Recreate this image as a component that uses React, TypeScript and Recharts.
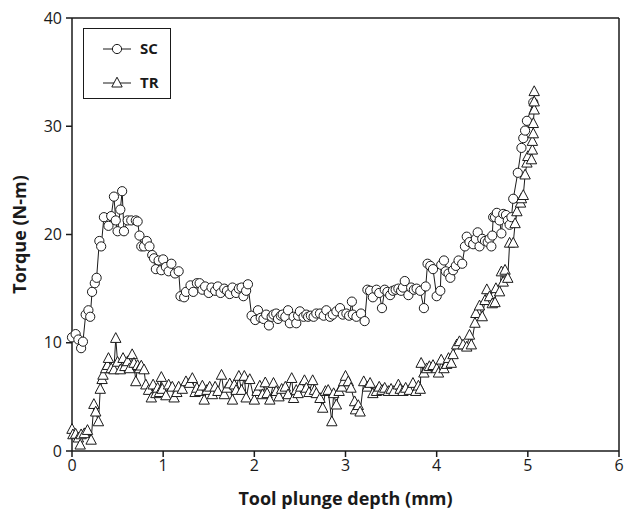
import React from "react";
import { LineChart, Line, XAxis, YAxis, ReferenceLine } from "recharts";

// SC: depth (mm) / torque (N-m)
const scDepth = [
  0.0, 0.04, 0.07, 0.1, 0.12, 0.15, 0.18, 0.2, 0.22, 0.25, 0.27, 0.3, 0.32, 0.35, 0.4, 0.43, 0.46, 0.48, 0.5, 0.53,
  0.55, 0.57, 0.61, 0.65, 0.7, 0.72, 0.74, 0.76, 0.79, 0.82, 0.85, 0.88, 0.9, 0.92, 0.95, 0.98, 1.0, 1.03, 1.06, 1.09,
  1.13, 1.17, 1.19, 1.23, 1.25, 1.3, 1.33, 1.37, 1.4, 1.43, 1.46, 1.5, 1.53, 1.57, 1.6, 1.63, 1.67, 1.7, 1.73, 1.76,
  1.8, 1.83, 1.86, 1.88, 1.91, 1.93, 1.97, 2.01, 2.04, 2.07, 2.1, 2.13, 2.16, 2.19, 2.21, 2.24, 2.26, 2.29, 2.31, 2.34,
  2.37, 2.39, 2.43, 2.46, 2.48, 2.5, 2.54, 2.57, 2.59, 2.62, 2.65, 2.68, 2.72, 2.76, 2.79, 2.83, 2.86, 2.9, 2.94, 2.97,
  3.01, 3.04, 3.07, 3.08, 3.12, 3.17, 3.21, 3.24, 3.27, 3.3, 3.34, 3.37, 3.4, 3.43, 3.46, 3.49, 3.52, 3.55, 3.58, 3.61,
  3.63, 3.65, 3.69, 3.72, 3.75, 3.78, 3.82, 3.86, 3.88, 3.9, 3.93, 3.96, 4.0, 4.04, 4.05, 4.08, 4.1, 4.13, 4.15, 4.18,
  4.21, 4.24, 4.28, 4.31, 4.33, 4.36, 4.4, 4.43, 4.45, 4.47, 4.5, 4.53, 4.56, 4.58, 4.6, 4.61, 4.62, 4.64, 4.66, 4.69,
  4.71, 4.73, 4.76, 4.78, 4.8, 4.82, 4.84, 4.89, 4.93, 4.95, 4.97, 4.99, 5.06,
];
const scTorque = [
  10.5, 10.8, 10.3, 9.5, 10.1, 12.6, 13.0, 12.4, 14.7, 15.5, 16.0, 19.4, 18.9, 21.6, 20.8, 21.7, 23.5, 21.3, 20.3, 22.3,
  24.0, 20.3, 21.3, 21.3, 21.3, 21.2, 19.9, 18.9, 18.9, 19.4, 18.9, 18.1, 17.8, 16.8, 17.6, 16.7, 17.7, 17.0, 16.6, 17.3,
  16.4, 16.6, 14.3, 14.2, 14.7, 15.3, 14.7, 15.5, 15.5, 14.9, 15.2, 14.6, 15.1, 14.8, 15.2, 14.6, 15.0, 14.8, 14.5, 15.1,
  14.6, 15.0, 15.1, 14.3, 14.8, 15.4, 12.5, 12.1, 13.0, 12.3, 12.2, 12.6, 11.6, 12.4, 12.6, 12.7, 12.2, 12.5, 12.6, 12.4,
  13.0, 11.8, 12.4, 11.8, 12.5, 12.9, 12.4, 12.6, 12.4, 12.5, 12.4, 12.7, 12.7, 12.5, 13.0, 12.4, 12.6, 12.9, 13.2, 12.6,
  12.7, 12.5, 13.8, 12.6, 12.4, 12.7, 12.0, 14.9, 14.8, 14.2, 14.9, 14.6, 13.2, 14.9, 14.7, 14.4, 14.8, 14.9, 15.0, 14.8,
  15.1, 15.7, 14.4, 15.1, 14.9, 15.0, 14.8, 13.2, 15.2, 17.3, 17.1, 16.8, 14.3, 14.8, 17.2, 17.6, 16.6, 16.4, 16.0, 16.7,
  17.1, 17.6, 17.3, 18.9, 19.8, 19.3, 19.1, 19.6, 20.2, 18.9, 19.6, 19.4, 19.3, 19.6, 18.9, 19.9, 21.6, 21.6, 22.0, 21.3,
  20.1, 21.9, 21.8, 21.3, 20.9, 21.6, 23.3, 25.7, 28.0, 28.9, 29.6, 30.5, 32.2,
];

// TR: depth (mm) / torque (N-m)
const trDepth = [
  0.0, 0.01, 0.04, 0.07, 0.09, 0.1, 0.135, 0.17, 0.21, 0.24, 0.26, 0.29, 0.31, 0.33, 0.34, 0.37, 0.39, 0.4, 0.43, 0.46,
  0.48, 0.5, 0.53, 0.56, 0.58, 0.61, 0.63, 0.66, 0.68, 0.7, 0.72, 0.74, 0.76, 0.79, 0.81, 0.84, 0.87, 0.89, 0.92, 0.94,
  0.96, 0.98, 0.99, 1.03, 1.06, 1.1, 1.12, 1.15, 1.17, 1.21, 1.25, 1.29, 1.32, 1.35, 1.37, 1.4, 1.43, 1.45, 1.48, 1.51,
  1.54, 1.57, 1.6, 1.64, 1.67, 1.7, 1.73, 1.76, 1.78, 1.8, 1.83, 1.86, 1.89, 1.91, 1.95, 2.0, 2.03, 2.06, 2.09, 2.12,
  2.14, 2.17, 2.21, 2.24, 2.27, 2.3, 2.34, 2.37, 2.41, 2.43, 2.46, 2.48, 2.51, 2.55, 2.57, 2.6, 2.64, 2.66, 2.68, 2.72,
  2.75, 2.78, 2.81, 2.85, 2.87, 2.9, 2.93, 2.96, 2.98, 3.0, 3.03, 3.06, 3.1, 3.11, 3.14, 3.16, 3.2, 3.24, 3.27, 3.3,
  3.34, 3.37, 3.4, 3.43, 3.47, 3.5, 3.53, 3.58, 3.6, 3.63, 3.66, 3.7, 3.74, 3.77, 3.8, 3.82, 3.83, 3.86, 3.89, 3.92,
  3.96, 4.0, 4.02, 4.05, 4.08, 4.11, 4.13, 4.16, 4.18, 4.22, 4.25, 4.29, 4.33, 4.36, 4.38, 4.42, 4.43, 4.47, 4.5, 4.53,
  4.55, 4.58, 4.61, 4.64, 4.65, 4.69, 4.71, 4.73, 4.75, 4.78, 4.8, 4.84, 4.86, 4.88, 4.92, 4.93, 4.95, 4.97, 4.99, 5.0,
  5.04, 5.05, 5.05, 5.06, 5.06, 5.07, 5.07, 5.07,
];
const trTorque = [
  2.0, 1.5, 1.55, 1.2, 0.55, 1.5, 1.6, 1.9, 1.0, 4.3, 3.6, 2.7, 5.7, 6.6, 7.0, 7.6, 7.9, 8.55, 7.6, 7.5,
  10.4, 8.2, 7.5, 8.55, 7.8, 8.25, 7.6, 8.9, 8.1, 6.4, 7.9, 7.6, 7.85, 7.5, 6.1, 5.6, 4.9, 6.1, 5.3, 5.8,
  5.4, 6.8, 5.7, 5.1, 6.1, 5.9, 4.9, 5.4, 5.9, 5.7, 6.4, 6.25, 6.7, 5.4, 5.8, 5.5, 6.0, 4.7, 5.6, 5.9,
  5.2, 5.9, 5.5, 7.0, 5.2, 5.8, 6.2, 4.7, 6.1, 5.6, 6.9, 5.6, 6.9, 4.9, 6.6, 4.7, 5.5, 6.0, 5.2, 6.3,
  5.3, 4.7, 6.25, 5.5, 5.0, 5.7, 5.9, 5.2, 6.7, 4.85, 5.6, 5.3, 5.9, 6.5, 5.8, 5.4, 6.5, 5.6, 5.3, 4.85,
  3.95, 5.5, 5.6, 2.7, 5.3, 4.25, 5.5, 5.9, 6.4, 6.9, 6.4, 5.8, 4.55, 3.8, 4.2, 3.6, 6.4, 5.9, 6.25, 5.3,
  5.5, 5.9, 5.6, 5.8, 5.5, 5.7, 5.5, 6.1, 5.7, 5.5, 5.8, 5.6, 6.25, 5.5, 6.0, 5.7, 8.1, 7.2, 7.6, 7.8,
  7.9, 7.6, 7.2, 8.4, 7.6, 8.0, 8.55, 8.1, 8.9, 9.8, 10.1, 9.8, 9.6, 10.7, 9.8, 11.8, 12.7, 13.4, 12.4, 13.9,
  14.9, 14.25, 13.6, 13.7, 15.0, 14.7, 16.55, 15.6, 16.7, 15.95, 19.2, 19.2, 21.0, 22.1, 22.9, 23.3, 23.6, 25.5, 26.6, 27.2,
  26.9, 27.8, 28.6, 29.3, 30.25, 31.5, 32.25, 33.2,
];

const xTicks = [0, 1, 2, 3, 4, 5, 6];
const yTicks = [0, 10, 20, 30, 40];

const scData = scDepth.map((x, i) => ({ x, y: scTorque[i] }));
const trData = trDepth.map((x, i) => ({ x, y: trTorque[i] }));

const FONT = "'Open Sans', sans-serif";
const INK = "#1a1a1a";

function CircleDot(props: { cx?: number; cy?: number }) {
  const { cx, cy } = props;
  if (cx == null || cy == null) return null;
  return <circle cx={cx} cy={cy} r={4.6} fill="#fff" stroke={INK} strokeWidth={1} />;
}

function TriangleDot(props: { cx?: number; cy?: number }) {
  const { cx, cy } = props;
  if (cx == null || cy == null) return null;
  const pts = `${cx},${cy - 5.8} ${cx - 5.2},${cy + 4} ${cx + 5.2},${cy + 4}`;
  return <polygon points={pts} fill="#fff" stroke={INK} strokeWidth={1} />;
}

// legend box drawn over the plot, top-left corner
function LegendBox() {
  const label = { position: "absolute" as const, left: 56, fontFamily: FONT, fontWeight: 700, fontSize: 15, color: INK, lineHeight: "20px" };
  return (
    <div
      style={{
        position: "absolute",
        left: 83,
        top: 28,
        width: 88,
        height: 71,
        border: `1px solid ${INK}`,
        boxSizing: "border-box",
        background: "#fff",
      }}
    >
      <svg width={50} height={70} style={{ position: "absolute", left: 0, top: 0 }}>
        <line x1={19} y1={20} x2={47} y2={20} stroke={INK} strokeWidth={1} />
        <circle cx={33} cy={20} r={4.6} fill="#fff" stroke={INK} strokeWidth={1} />
        <line x1={19} y1={54} x2={47} y2={54} stroke={INK} strokeWidth={1} />
        <polygon points="33,48.2 27.8,58 38.2,58" fill="#fff" stroke={INK} strokeWidth={1} />
      </svg>
      <span style={{ ...label, top: 9 }}>SC</span>
      <span style={{ ...label, top: 43 }}>TR</span>
    </div>
  );
}

function YTitle(props: { viewBox?: { x: number; y: number; width: number; height: number } }) {
  const vb = props.viewBox;
  if (!vb) return null;
  const cx = vb.x + 19;
  const cy = vb.y + vb.height / 2;
  return (
    <text
      x={cx}
      y={cy}
      transform={`rotate(-90 ${cx} ${cy})`}
      textAnchor="middle"
      dominantBaseline="central"
      fontFamily={FONT}
      fontWeight={700}
      fontSize={18}
      fill={INK}
    >
      Torque (N-m)
    </text>
  );
}

function XTitle(props: { viewBox?: { x: number; y: number; width: number; height: number } }) {
  const vb = props.viewBox;
  if (!vb) return null;
  return (
    <text
      x={vb.x + vb.width / 2}
      y={vb.y + 54}
      textAnchor="middle"
      fontFamily={FONT}
      fontWeight={700}
      fontSize={18}
      fill={INK}
    >
      Tool plunge depth (mm)
    </text>
  );
}

export default function App() {
  return (
    <div style={{ position: "absolute", left: 0, top: 0, width: 624, height: 514, background: "#fff" }}>
      <LineChart width={624} height={514} margin={{ top: 18, right: 5, left: 0, bottom: 0 }}>
        <XAxis
          type="number"
          dataKey="x"
          domain={[0, 6]}
          ticks={xTicks}
          interval={0}
          height={63}
          stroke={INK}
          strokeWidth={1.5}
          tickSize={6}
          tickMargin={3}
          tick={{ fill: INK, fontFamily: FONT, fontSize: 16 }}
          label={<XTitle />}
        />
        <YAxis
          type="number"
          domain={[0, 40]}
          ticks={yTicks}
          interval={0}
          width={72}
          stroke={INK}
          strokeWidth={1.5}
          tickSize={6}
          tickMargin={4}
          tick={{ fill: INK, fontFamily: FONT, fontSize: 16 }}
          label={<YTitle />}
        />
        <ReferenceLine y={40} stroke={INK} strokeWidth={1.5} />
        <ReferenceLine x={6} stroke={INK} strokeWidth={1.5} />
        <Line
          data={scData}
          dataKey="y"
          name="SC"
          stroke={INK}
          strokeWidth={1}
          dot={<CircleDot />}
          activeDot={false}
          isAnimationActive={false}
        />
        <Line
          data={trData}
          dataKey="y"
          name="TR"
          stroke={INK}
          strokeWidth={1}
          dot={<TriangleDot />}
          activeDot={false}
          isAnimationActive={false}
        />
      </LineChart>
      <LegendBox />
    </div>
  );
}
